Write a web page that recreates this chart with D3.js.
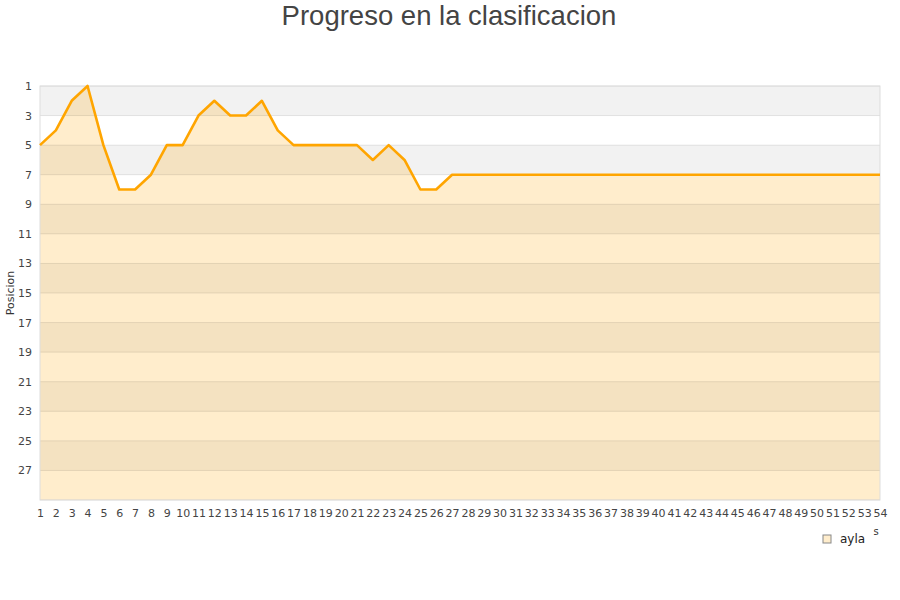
<!DOCTYPE html>
<html>
<head>
<meta charset="utf-8">
<script src="https://cdn.jsdelivr.net/npm/d3@7"></script>
<style>
  body { margin: 0; background: #fff; }
  text { font-family: "DejaVu Sans", sans-serif; }
</style>
</head>
<body>
<div id="chart"></div>
<script>
// Jornadas and positions for "ayla"
const jornadas = d3.range(1, 55);
const posiciones = [5, 4, 2, 1, 5, 8, 8, 7, 5, 5, 3, 2, 3, 3, 2, 4, 5, 5, 5, 5,
                    5, 6, 5, 6, 8, 8, 7, 7, 7, 7, 7, 7, 7, 7, 7, 7, 7, 7, 7, 7,
                    7, 7, 7, 7, 7, 7, 7, 7, 7, 7, 7, 7, 7, 7];
const yTicks = [1, 3, 5, 7, 9, 11, 13, 15, 17, 19, 21, 23, 25, 27];
const serieNombre = "ayla";

const margin = {top: 86, right: 20, bottom: 100, left: 40},
      width = 900 - margin.left - margin.right,
      height = 600 - margin.top - margin.bottom;

const root = d3.select("#chart").append("svg")
               .attr("width", 900)
               .attr("height", 600);

// Title
root.append("text")
    .attr("x", 449)
    .attr("y", 25)
    .attr("text-anchor", "middle")
    .style("font-family", "'Liberation Sans', Arial, sans-serif")
    .style("font-size", "27.5px")
    .style("fill", "#444")
    .text("Progreso en la clasificacion");

const svg = root.append("g")
                .attr("transform", `translate(${margin.left},${margin.top})`);

const x = d3.scaleLinear().domain([1, 54]).range([0, width]);
const y = d3.scaleLinear().domain([1, 29]).range([0, height]);

// Alternating bands
const bands = yTicks.filter((d, i) => i % 2 === 0);
svg.selectAll(".band")
   .data(bands)
   .join("rect")
   .attr("x", 0)
   .attr("y", d => y(d))
   .attr("width", width)
   .attr("height", d => y(d + 2) - y(d))
   .style("fill", "#f2f2f2");

// Area under the line
const data = jornadas.map((j, i) => ({j: j, p: posiciones[i]}));
svg.append("path")
   .datum(data)
   .attr("d", d3.area().x(d => x(d.j)).y0(height).y1(d => y(d.p)))
   .style("fill", "orange")
   .style("fill-opacity", 0.2);

// Grid lines
svg.selectAll(".grid")
   .data(yTicks.concat([29]))
   .join("line")
   .attr("x1", 0)
   .attr("x2", width)
   .attr("y1", d => y(d))
   .attr("y2", d => y(d))
   .style("stroke", "#000")
   .style("stroke-opacity", 0.09)
   .style("stroke-width", 1);

// Frame
svg.append("rect")
   .attr("x", 0).attr("y", 0)
   .attr("width", width).attr("height", height)
   .style("fill", "none")
   .style("stroke", "#ddd");

// Line
svg.append("path")
   .datum(data)
   .attr("d", d3.line().x(d => x(d.j)).y(d => y(d.p)))
   .style("fill", "none")
   .style("stroke", "orange")
   .style("stroke-width", 2.6)
   .style("stroke-linejoin", "round");

// Y axis
const yAxis = svg.append("g")
   .call(d3.axisLeft(y).tickValues(yTicks).tickSize(0).tickPadding(8));
yAxis.select(".domain").remove();
yAxis.selectAll("text").style("font-size", "11px").style("fill", "#444");

// X axis
const xAxis = svg.append("g")
   .attr("transform", `translate(0,${height})`)
   .call(d3.axisBottom(x).tickValues(jornadas).tickFormat(d3.format("d")).tickSize(0).tickPadding(9));
xAxis.select(".domain").remove();
xAxis.selectAll("text").style("font-size", "11px").style("fill", "#444");

// Y axis title
root.append("text")
    .attr("transform", "translate(14,293) rotate(-90)")
    .attr("text-anchor", "middle")
    .style("font-size", "11px")
    .style("fill", "#333")
    .text("Posicion");

// Clipped x axis title remnant
root.append("text")
    .attr("x", 876)
    .attr("y", 535)
    .attr("text-anchor", "middle")
    .style("font-size", "10px")
    .style("fill", "#333")
    .text("s");

// Legend
root.append("rect")
    .attr("x", 823).attr("y", 535)
    .attr("width", 8).attr("height", 8)
    .style("fill", "#ffedcc")
    .style("stroke", "#888");
root.append("text")
    .attr("x", 840)
    .attr("y", 543)
    .style("font-size", "12px")
    .style("fill", "#222")
    .text(serieNombre);
</script>
</body>
</html>
